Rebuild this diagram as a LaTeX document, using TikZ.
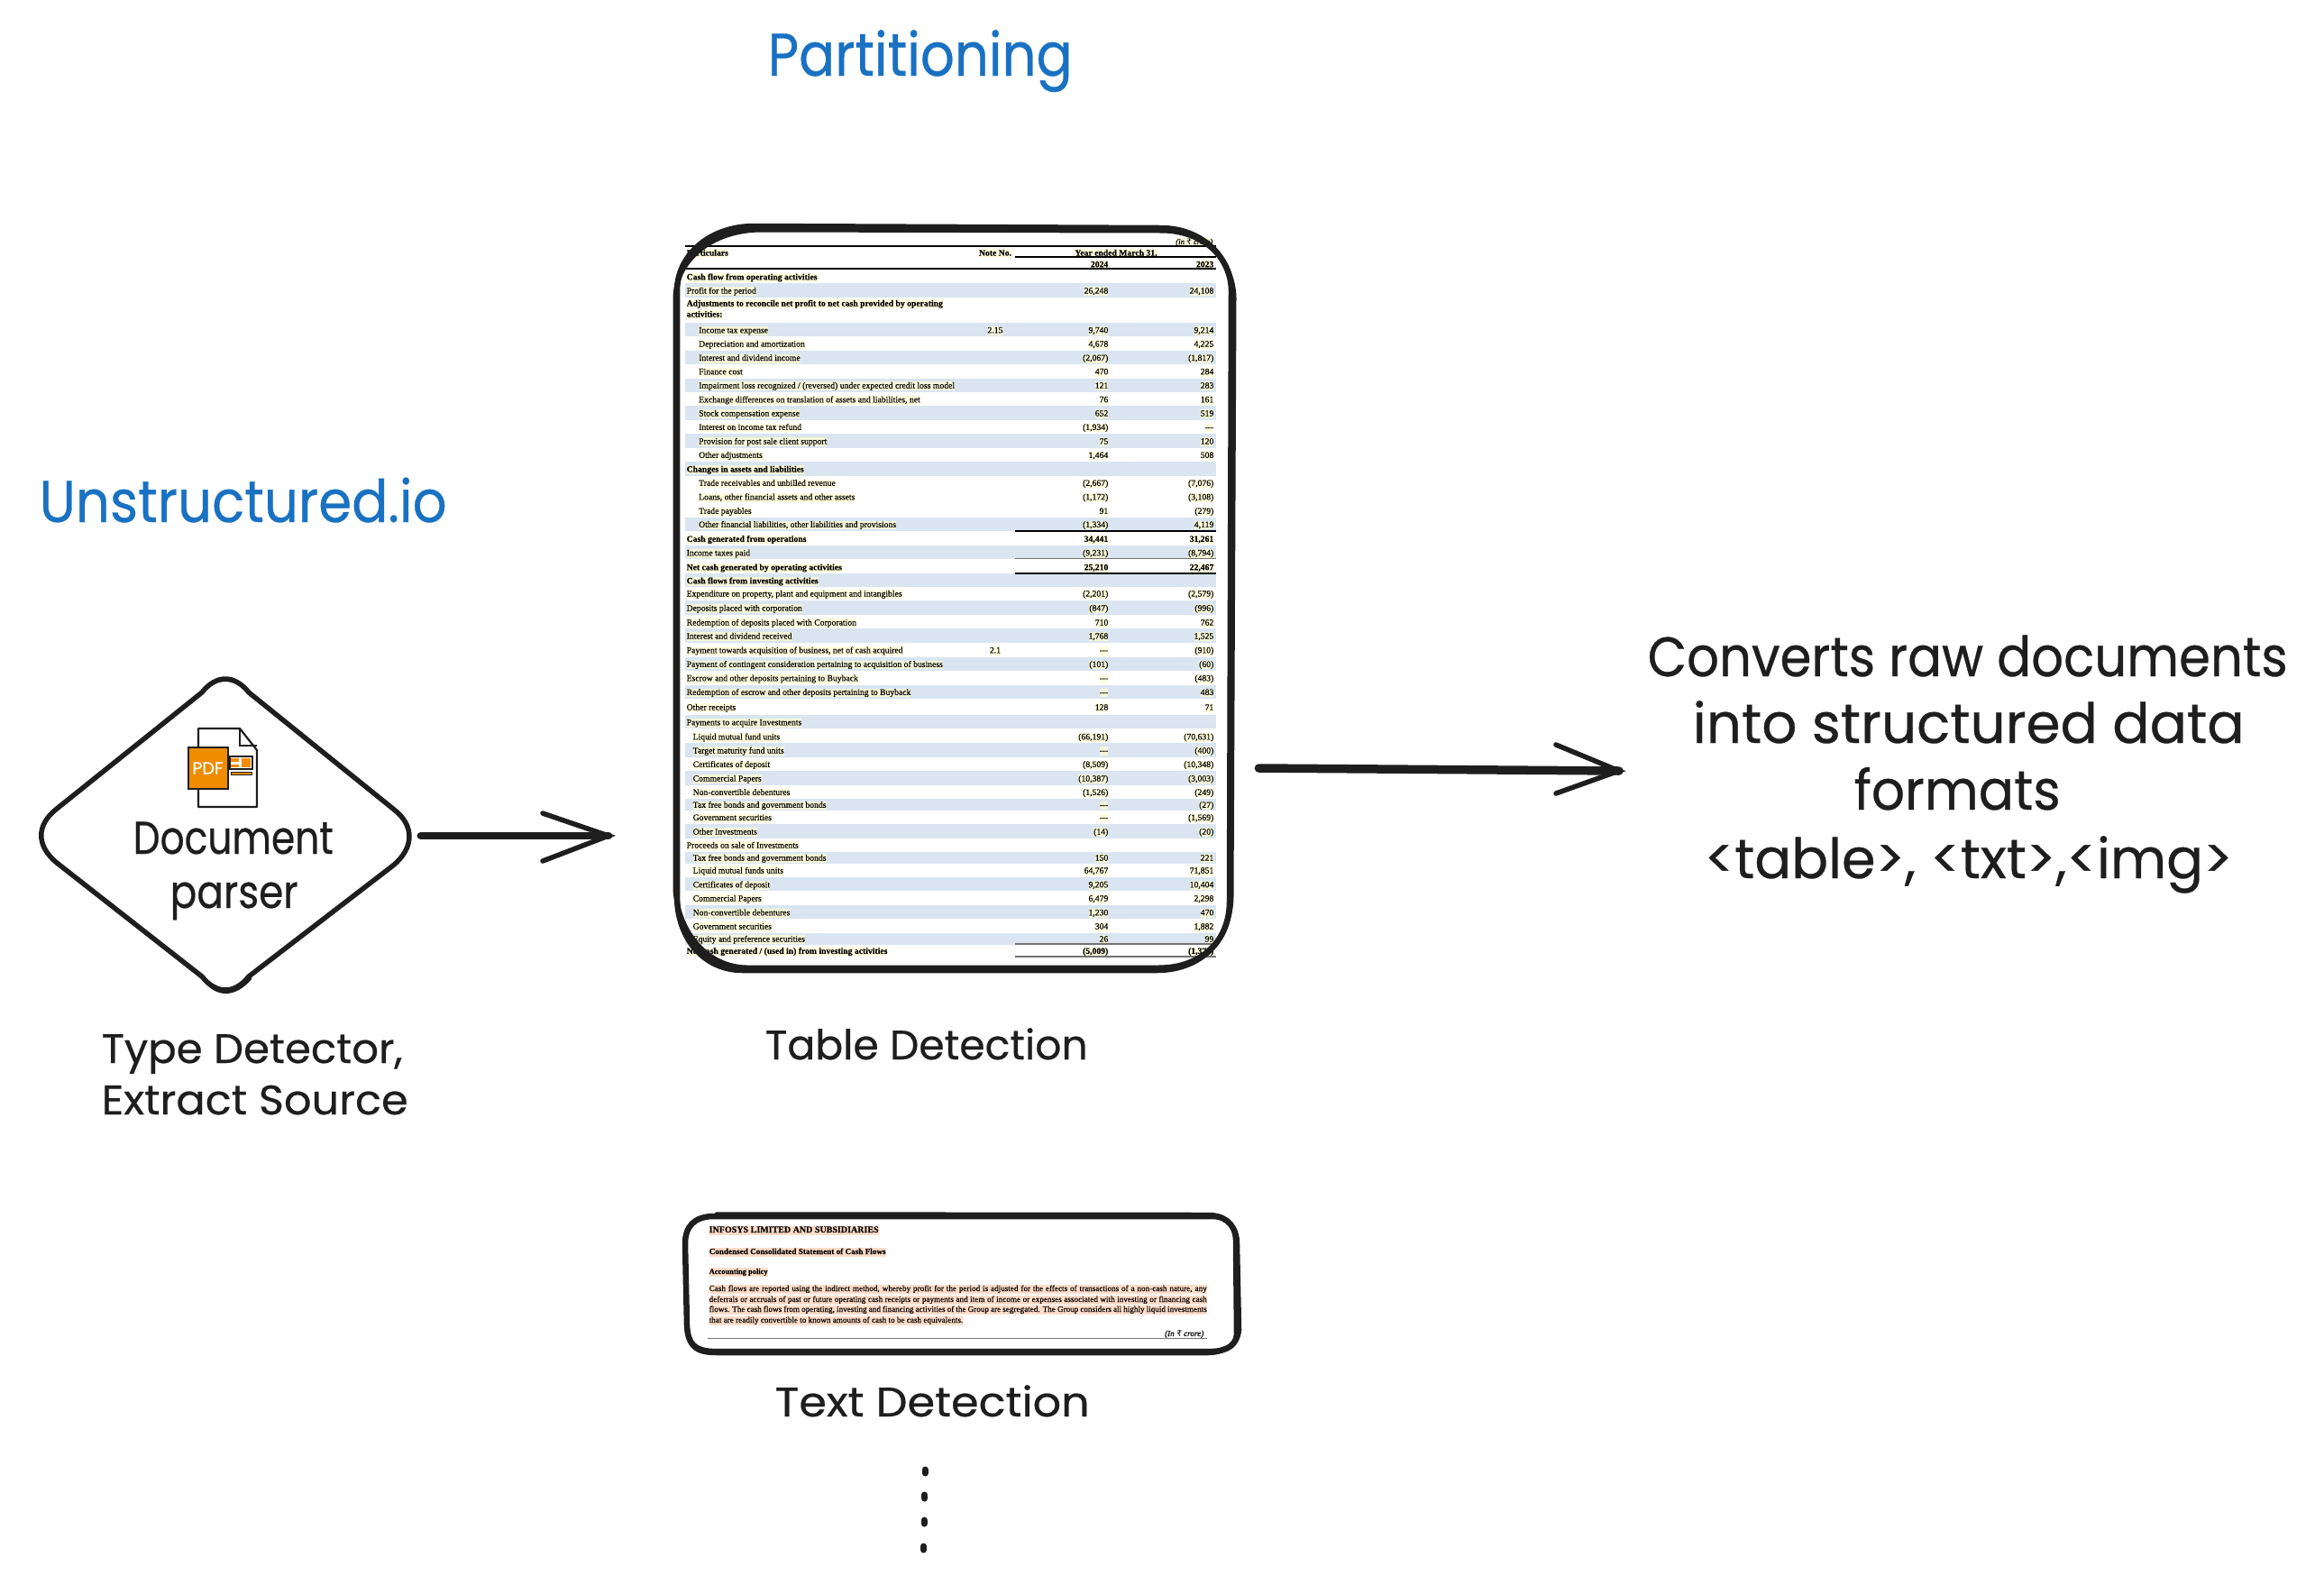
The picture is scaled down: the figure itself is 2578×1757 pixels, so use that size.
\documentclass[tikz,border=0pt]{standalone}
\usepackage{graphicx}
\usepackage{fontspec}
\setmainfont{Liberation Serif}
\newfontfamily\handfont[FakeBold=0.5]{Poppins}
\newfontfamily\sfont[FakeBold=0.2]{Liberation Serif}
\newfontfamily\rupfont{DejaVu Sans}
\definecolor{ink}{HTML}{1E1E1E}
\definecolor{skyblue}{HTML}{1971C2}
\definecolor{bandblue}{HTML}{DAE5F1}
\definecolor{hly}{HTML}{FFFBD2}
\definecolor{hlp}{HTML}{FFDDC9}
\definecolor{pdfo}{HTML}{F08C00}
\newdimen\pxu \pxu=0.01cm
% \hand{font size in pt}{width in px}{text}
\newcommand\hand[3]{\resizebox{#2\pxu}{\height}{\handfont\fontsize{#1}{#1}\selectfont #3}}
\newcommand\rupee{{\rupfont\char"20B9}}
\newcount\cellno
\tikzset{
  x=0.01cm,y=-0.01cm,
  handlabel/.style={anchor=base west,inner sep=0pt,text=ink},
  titlelabel/.style={anchor=base west,inner sep=0pt,text=skyblue},
  sketch/.style={draw=ink,line width=0.065cm,line join=round,line cap=round},
  sketchthin/.style={draw=ink,line width=0.055cm,line join=round,line cap=round},
  shaftline/.style={draw=ink,line width=0.085cm,line cap=round},
  barb/.style={draw=ink,line width=0.055cm,line cap=round},
  holder/.style={draw=none,inner sep=0pt,minimum width=#1},
  tcell/.style={inner sep=0pt,text height=2.1pt,text depth=0.72pt,text=black,
     font=\sfont\fontsize{2.75}{3}\selectfont},
  hilite/.style={fill=hly,fill opacity=0.75,text opacity=1},
  pcell/.style={inner sep=0pt,text height=2.05pt,text depth=0.72pt,text=black,
     fill=hlp,anchor=base west,font=\sfont\fontsize{2.6}{3}\selectfont},
  bandfill/.style={fill=bandblue,draw=none},
  ruleblack/.style={draw=black,line width=0.012cm},
  rulegray/.style={draw=black!55,line width=0.012cm},
}
% \trow[font]{y}{x}{label}{note}{2024}{2023}
\newcommand\trow[7][]{%
  \global\advance\cellno by 1
  \if\relax\detokenize{#4}\relax\else
  \node[tcell,hilite,anchor=base west] (ca\the\cellno) at (#3,#2+3.6) {#1#4};\fi
  \if\relax\detokenize{#5}\relax\else
  \node[tcell,hilite,anchor=base] (cb\the\cellno) at (1104,#2+3.6) {#1#5};\fi
  \if\relax\detokenize{#6}\relax\else
  \node[tcell,hilite,anchor=base east] (cc\the\cellno) at (1230,#2+3.6) {#1#6};\fi
  \if\relax\detokenize{#7}\relax\else
  \node[tcell,hilite,anchor=base east] (cd\the\cellno) at (1347,#2+3.6) {#1#7};\fi
}
\newcommand\tband[1]{\fill[bandfill] (760,#1-7.6) rectangle (1349,#1+7.6);}
\begin{document}
\begin{tikzpicture}
\useasboundingbox (0,0) rectangle (2578,1757);
% titles
\node[titlelabel] (tpart) at (851,84) {\color{skyblue}\hand{19}{338}{Partitioning}};
\node[titlelabel] (tunst) at (43,579) {\color{skyblue}\hand{18.5}{452}{Unstructured.io}};
% ---------- diamond
\node[holder=4.12cm,minimum height=3.48cm] (dia) at (250,925) {};
\draw[sketchthin] (224,768) .. controls (240,748) and (260,748) .. (276,768)
   -- (436,897) .. controls (460,915) and (460,940) .. (436,960)
   -- (276,1083) .. controls (260,1103) and (240,1103) .. (224,1083)
   -- (63,957) .. controls (40,938) and (40,915) .. (63,897) -- cycle;
\draw[sketchthin,line width=0.03cm] (226,766) .. controls (240,750) and (262,750) .. (278,770) -- (434,895);
\draw[sketchthin,line width=0.03cm] (278,1085) .. controls (260,1106) and (240,1105) .. (226,1086) -- (66,960);
% ---------- pdf icon
\draw[draw=ink,line width=0.022cm,line join=round,fill=white]
   (220,808) -- (266,808) -- (285,832) -- (285,895) -- (220,895) -- cycle;
\draw[draw=ink,line width=0.016cm] (266,808) -- (266,827) -- (285,827);
\draw[draw=ink,line width=0.025cm,fill=pdfo] (209,829) rectangle (253,875);
\node[inner sep=0pt,text=white,font=\handfont\fontsize{5.4}{6}\selectfont] (pdftxt) at (230.5,852) {PDF};
\draw[draw=ink,line width=0.02cm,fill=white] (255,839) rectangle (280,853);
\fill[pdfo] (268,841) rectangle (278,851);
\fill[pdfo] (256,841) rectangle (265,844.5);
\fill[pdfo] (256,848) rectangle (265,851);
\draw[draw=ink,line width=0.035cm] (256,858) -- (280,858);
\draw[draw=pdfo,line width=0.012cm] (257,858) -- (279,858);
% diamond labels
\node[handlabel] (ldoc) at (147,947) {\hand{14.5}{222}{Document}};
\node[handlabel] (lpar) at (188,1007) {\hand{14.5}{142}{parser}};
\node[handlabel] (ltype) at (112,1179) {\hand{13}{334}{Type Detector,}};
\node[handlabel] (lextr) at (112,1236) {\hand{13}{340}{Extract Source}};
% ---------- table
\node[holder=6.15cm,minimum height=8.26cm] (tbl) at (1058,663) {};
\foreach \yv in {322,365.7,396.4,427.1,458,489,519.9,581.3,612.7,643.7,674,705,736.3,767.3,
  800.7,832,863,922,980.7,1011.7} {\tband{\yv}}
\fill[bandfill] (760,885.5) rectangle (1349,899);
\fill[bandfill] (760,944.5) rectangle (1349,958);
\fill[bandfill] (760,1034.5) rectangle (1349,1047.5);
\trow[\bfseries]{280}{761}{Particulars}{Note No.}{}{}
\node[tcell,hilite,font=\sfont\bfseries\fontsize{2.75}{3}\selectfont,anchor=base] (yearhdr) at (1238,283.6) {Year ended March 31,};
\node[tcell,hilite,font=\sfont\itshape\fontsize{2.5}{3}\selectfont,anchor=base east] (unit) at (1346,271) {(in \rupee{} crore)};
\trow[\bfseries]{292.7}{761}{}{}{2024}{2023}
\trow[\bfseries]{306.7}{761}{Cash flow from operating activities}{}{}{}
\trow{322}{761}{Profit for the period}{}{26,248}{24,108}
\trow[\bfseries]{336}{761}{Adjustments to reconcile net profit to net cash provided by operating}{}{}{}
\trow[\bfseries]{348}{761}{activities:}{}{}{}
\trow{365.7}{774.5}{Income tax expense}{2.15}{9,740}{9,214}
\trow{381}{774.5}{Depreciation and amortization}{}{4,678}{4,225}
\trow{396.4}{774.5}{Interest and dividend income}{}{(2,067)}{(1,817)}
\trow{411.7}{774.5}{Finance cost}{}{470}{284}
\trow{427.1}{774.5}{Impairment loss recognized / (reversed) under expected credit loss model}{}{121}{283}
\trow{442.7}{774.5}{Exchange differences on translation of assets and liabilities, net}{}{76}{161}
\trow{458}{774.5}{Stock compensation expense}{}{652}{519}
\trow{473.3}{774.5}{Interest on income tax refund}{}{(1,934)}{---}
\trow{489}{774.5}{Provision for post sale client support}{}{75}{120}
\trow{504.3}{774.5}{Other adjustments}{}{1,464}{508}
\trow[\bfseries]{519.9}{761}{Changes in assets and liabilities}{}{}{}
\trow{535.3}{774.5}{Trade receivables and unbilled revenue}{}{(2,667)}{(7,076)}
\trow{550.7}{774.5}{Loans, other financial assets and other assets}{}{(1,172)}{(3,108)}
\trow{566.3}{774.5}{Trade payables}{}{91}{(279)}
\trow{581.3}{774.5}{Other financial liabilities, other liabilities and provisions}{}{(1,334)}{4,119}
\trow[\bfseries]{597.3}{761}{Cash generated from operations}{}{34,441}{31,261}
\trow{612.7}{761}{Income taxes paid}{}{(9,231)}{(8,794)}
\trow[\bfseries]{628.7}{761}{Net cash generated by operating activities}{}{25,210}{22,467}
\trow[\bfseries]{643.7}{761}{Cash flows from investing activities}{}{}{}
\trow{658}{761}{Expenditure on property, plant and equipment and intangibles}{}{(2,201)}{(2,579)}
\trow{674}{761}{Deposits placed with corporation}{}{(847)}{(996)}
\trow{690}{761}{Redemption of deposits placed with Corporation}{}{710}{762}
\trow{705}{761}{Interest and dividend received}{}{1,768}{1,525}
\trow{720.7}{761}{Payment towards acquisition of business, net of cash acquired}{2.1}{---}{(910)}
\trow{736.3}{761}{Payment of contingent consideration pertaining to acquisition of business}{}{(101)}{(60)}
\trow{751.7}{761}{Escrow and other deposits pertaining to Buyback}{}{---}{(483)}
\trow{767.3}{761}{Redemption of escrow and other deposits pertaining to Buyback}{}{---}{483}
\trow{784}{761}{Other receipts}{}{128}{71}
\trow{800.7}{761}{Payments to acquire Investments}{}{}{}
\trow{816.7}{768}{Liquid mutual fund units}{}{(66,191)}{(70,631)}
\trow{832}{768}{Target maturity fund units}{}{---}{(400)}
\trow{847.3}{768}{Certificates of deposit}{}{(8,509)}{(10,348)}
\trow{863}{768}{Commercial Papers}{}{(10,387)}{(3,003)}
\trow{878.3}{768}{Non-convertible debentures}{}{(1,526)}{(249)}
\trow{892.3}{768}{Tax free bonds and government bonds}{}{---}{(27)}
\trow{906.3}{768}{Government securities}{}{---}{(1,569)}
\trow{922}{768}{Other Investments}{}{(14)}{(20)}
\trow{937}{761}{Proceeds on sale of Investments}{}{}{}
\trow{951}{768}{Tax free bonds and government bonds}{}{150}{221}
\trow{965}{768}{Liquid mutual funds units}{}{64,767}{71,851}
\trow{980.7}{768}{Certificates of deposit}{}{9,205}{10,404}
\trow{996}{768}{Commercial Papers}{}{6,479}{2,298}
\trow{1011.7}{768}{Non-convertible debentures}{}{1,230}{470}
\trow{1027}{768}{Government securities}{}{304}{1,882}
\trow{1041}{768}{Equity and preference securities}{}{26}{99}
\trow[\bfseries]{1054.3}{761}{Net cash generated / (used in) from investing activities}{}{(5,009)}{(1,379)}
% table rules
\draw[ruleblack,line width=0.02cm] (760,273.3) -- (1349,273.3);
\draw[ruleblack,line width=0.02cm] (1126,285) -- (1349,285);
\draw[ruleblack,line width=0.02cm] (760,297.7) -- (1349,297.7);
\draw[ruleblack,line width=0.02cm] (1126,589) -- (1349,589);
\draw[rulegray] (1126,619.3) -- (1349,619.3);
\draw[ruleblack,line width=0.02cm] (1126,635.7) -- (1349,635.7);
\draw[rulegray,line width=0.02cm] (1126,1046.7) -- (1349,1046.7);
\draw[rulegray,line width=0.02cm] (1126,1061) -- (1349,1061);
% table frame
\draw[sketch] (837,251) -- (1287,253) .. controls (1335,253) and (1366,287) .. (1366,323)
   -- (1364,1000) .. controls (1364,1045) and (1330,1076) .. (1283,1076)
   -- (824,1076) .. controls (780,1076) and (751,1040) .. (751,993)
   -- (751,323) .. controls (751,285) and (785,251) .. (837,251) -- cycle;
\draw[sketch,line width=0.05cm] (845,255) -- (1290,256) .. controls (1338,257) and (1368,290) .. (1369,330)
   -- (1366,995) .. controls (1365,1040) and (1335,1073) .. (1285,1073)
   -- (828,1073) .. controls (785,1072) and (754,1036) .. (749,988)
   -- (749,330) .. controls (750,290) and (788,255) .. (845,255);
\node[handlabel] (ltab) at (848,1175) {\hand{13}{358}{Table Detection}};
% ---------- text box
\node[holder=6.12cm,minimum height=1.5cm] (txt) at (1067,1424) {};
\node[pcell,font=\sfont\bfseries\fontsize{2.85}{3}\selectfont] (p1) at (786,1367) {INFOSYS LIMITED AND SUBSIDIARIES};
\node[pcell,font=\sfont\bfseries\fontsize{2.6}{3}\selectfont] (p2) at (786,1391) {Condensed Consolidated Statement of Cash Flows};
\node[pcell,font=\sfont\bfseries\fontsize{2.4}{3}\selectfont] (p3) at (786,1413) {Accounting policy};
\node[pcell] (p4) at (786,1432) {\makebox[552\pxu][s]{Cash flows are reported using the indirect method, whereby profit for the period is adjusted for the effects of transactions of a non-cash nature, any}};
\node[pcell] (p5) at (786,1444) {\makebox[552\pxu][s]{deferrals or accruals of past or future operating cash receipts or payments and item of income or expenses associated with investing or financing cash}};
\node[pcell] (p6) at (786,1455) {\makebox[552\pxu][s]{flows. The cash flows from operating, investing and financing activities of the Group are segregated. The Group considers all highly liquid investments}};
\node[pcell] (p7) at (786,1467) {that are readily convertible to known amounts of cash to be cash equivalents.};
\node[inner sep=0pt,anchor=base east,font=\sfont\itshape\fontsize{2.6}{3}\selectfont] (p8) at (1336,1482) {(In \rupee{} crore)};
\draw[rulegray] (785,1484.3) -- (1339,1484.3);
\draw[sketch] (790,1349) -- (1345,1349) .. controls (1362,1349) and (1372,1362) .. (1372,1380)
  -- (1374,1475) .. controls (1372,1492) and (1362,1498) .. (1345,1499)
  -- (790,1499) .. controls (770,1498) and (763,1490) .. (762,1470)
  -- (760,1380) .. controls (760,1360) and (770,1350) .. (790,1349) -- cycle;
\draw[sketch,line width=0.045cm] (795,1346.5) -- (1340,1347) .. controls (1360,1347) and (1369,1358) .. (1370,1375)
  -- (1371,1480) .. controls (1370,1494) and (1355,1501) .. (1340,1501)
  -- (795,1501) .. controls (772,1501) and (764,1494) .. (762,1475);
\node[handlabel] (ltxt) at (859,1571) {\hand{13}{349}{Text Detection}};
% dots
\coordinate (d1) at (1026,1630); \coordinate (d2) at (1025.5,1658);
\coordinate (d3) at (1025,1686); \coordinate (d4) at (1024.5,1715);
\draw[barb,line width=0.07cm] (d1) -- ++(0,4);
\draw[barb,line width=0.07cm] (d2) -- ++(0,4);
\draw[barb,line width=0.07cm] (d3) -- ++(0,4);
\draw[barb,line width=0.07cm] (d4) -- ++(0,4);
% ---------- result text
\node[handlabel] (r1) at (1827,750) {\hand{17.5}{710}{Converts raw documents}};
\node[handlabel] (r2) at (1877,824) {\hand{17.5}{612}{into structured data}};
\node[handlabel] (r3) at (2056,898) {\hand{17.5}{229}{formats}};
\node[handlabel] (r4) at (1890,974) {\hand{17.5}{586}{<table>, <txt>,<img>}};
% ---------- arrows
\coordinate (a1tip) at (675,927);
\coordinate (a1up) at (602,902);
\coordinate (a1dn) at (602,955);
\draw[shaftline] ([xshift=0.10cm]dia.east |- a1tip) -- (a1tip);
\draw[barb] (a1up) -- (a1tip) -- (a1dn);
\coordinate (a2tip) at (1796,855);
\coordinate (a2up) at (1726,826);
\coordinate (a2dn) at (1726,880);
\draw[shaftline,line width=0.095cm] ([xshift=0.30cm]tbl.east |- a2tip) ++(0,-3) -- (a2tip);
\draw[barb] (a2up) -- (a2tip) -- (a2dn);
\end{tikzpicture}
\end{document}
